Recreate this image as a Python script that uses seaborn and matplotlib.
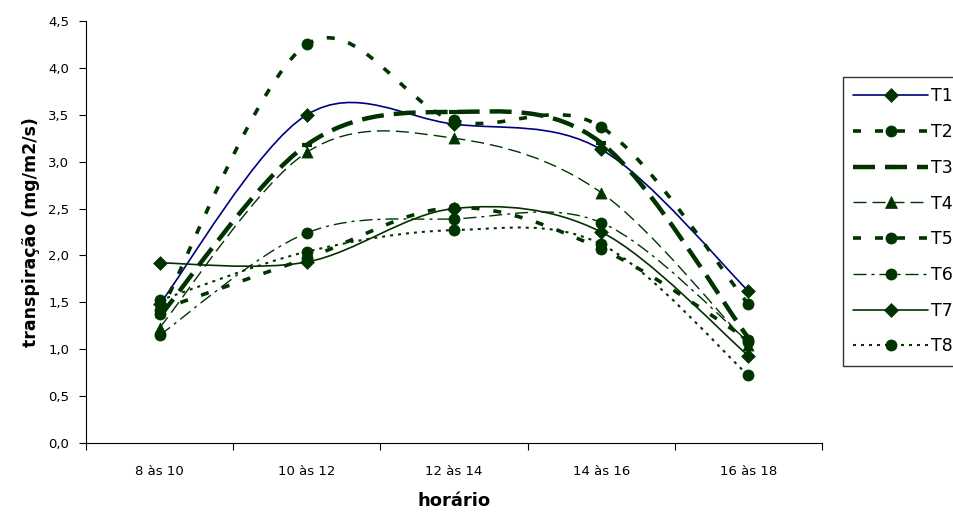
import numpy as np
import pandas as pd
import seaborn as sns
import matplotlib
matplotlib.use("Agg")
import matplotlib.pyplot as plt
from matplotlib.path import Path
from matplotlib.patches import PathPatch
from matplotlib.lines import Line2D
from matplotlib.ticker import FuncFormatter, FixedLocator

# ---------------- data ----------------
categories = ["8 às 10", "10 às 12", "12 às 14", "14 às 16", "16 às 18"]
t1 = [1.48, 3.50, 3.40, 3.13, 1.62]
t2 = [1.38, 4.25, 3.44, 3.37, 1.48]
t3 = [1.35, 3.18, 3.53, 3.20, 1.12]
t4 = [1.23, 3.10, 3.25, 2.67, 1.05]
t5 = [1.42, 1.97, 2.51, 2.07, 1.10]
t6 = [1.15, 2.24, 2.39, 2.35, 1.08]
t7 = [1.92, 1.93, 2.50, 2.25, 0.93]
t8 = [1.52, 2.04, 2.27, 2.12, 0.72]
series_names = ["T1", "T2", "T3", "T4", "T5", "T6", "T7", "T8"]
series_values = [t1, t2, t3, t4, t5, t6, t7, t8]
y_ticks = [0.0, 0.5, 1.0, 1.5, 2.0, 2.5, 3.0, 3.5, 4.0, 4.5]

# ---------------- style ----------------
sns.set_theme(style="white")
plt.rcParams['font.family'] = ['DejaVu Sans']
plt.rcParams['text.color'] = 'black'
plt.rcParams['axes.labelcolor'] = 'black'
plt.rcParams['xtick.color'] = 'black'
plt.rcParams['ytick.color'] = 'black'

GREEN = "#003300"
NAVY = "#000080"

def px_dash(pattern_px, lw):
    # convert pixel dash pattern into units of linewidth
    return (0, tuple(p * 0.72 / lw for p in pattern_px))

styles = {
    "T1": dict(color=NAVY, lw=1.2, ls="-", marker="D", ms=7),
    "T2": dict(color=GREEN, lw=2.6, ls=px_dash((8, 14), 2.6), marker="o", ms=8),
    "T3": dict(color=GREEN, lw=3.2, ls=px_dash((22, 10), 3.2), marker="_", ms=7),
    "T4": dict(color=GREEN, lw=1.0, ls=px_dash((13, 6), 1.0), marker="^", ms=8),
    "T5": dict(color=GREEN, lw=2.6, ls=px_dash((8, 14), 2.6), marker="o", ms=8),
    "T6": dict(color=GREEN, lw=1.0, ls=px_dash((13, 5, 3, 5), 1.0), marker="o", ms=8),
    "T7": dict(color=GREEN, lw=1.2, ls="-", marker="D", ms=7),
    "T8": dict(color=GREEN, lw=1.5, ls=px_dash((3, 5), 1.5), marker="o", ms=8),
}

fig = plt.figure(figsize=(9.54, 5.13), dpi=100)
ax = fig.add_axes([86 / 954, 1 - 443 / 513, (822 - 86) / 954, (443 - 21) / 513])

x_pos = np.arange(len(categories), dtype=float)

def smooth_path(xs, ys):
    # Catmull-Rom style Bezier smoothing (as in spreadsheet "smoothed line")
    pts = np.column_stack([xs, ys])
    n = len(pts)
    verts = [tuple(pts[0])]
    codes = [Path.MOVETO]
    for i in range(n - 1):
        p0 = pts[max(i - 1, 0)]
        p1 = pts[i]
        p2 = pts[i + 1]
        p3 = pts[min(i + 2, n - 1)]
        c1 = p1 + (p2 - p0) / 6.0
        c2 = p2 - (p3 - p1) / 6.0
        verts += [tuple(c1), tuple(c2), tuple(p2)]
        codes += [Path.CURVE4] * 3
    return Path(verts, codes)

handles = []
for k, (name, vals) in enumerate(zip(series_names, series_values)):
    st = styles[name]
    patch = PathPatch(smooth_path(x_pos, np.array(vals, dtype=float)),
                      fill=False, edgecolor=st["color"], lw=st["lw"],
                      linestyle=st["ls"], zorder=2 + k * 0.1, capstyle="butt")
    ax.add_patch(patch)
    df = pd.DataFrame({"x": x_pos, "y": vals})
    if st["marker"] == "_":
        sns.scatterplot(data=df, x="x", y="y", marker="_", s=st["ms"] ** 2,
                        color=GREEN, linewidth=3, ax=ax, zorder=5, legend=False)
    else:
        sns.scatterplot(data=df, x="x", y="y", marker=st["marker"], s=st["ms"] ** 2,
                        color=GREEN, edgecolor=GREEN, linewidth=0.5, ax=ax,
                        zorder=5, legend=False)
    handles.append(Line2D([], [], color=st["color"], lw=st["lw"], linestyle=st["ls"],
                          marker=st["marker"], markersize=st["ms"],
                          markerfacecolor=GREEN, markeredgecolor=GREEN,
                          markeredgewidth=3 if st["marker"] == "_" else 0.5))

# ---------------- axes ----------------
ax.set_xlim(-0.5, len(categories) - 0.5)
ax.set_ylim(0, 4.5)
ax.set_xticks(x_pos)
ax.set_xticklabels(categories, fontsize=9.5)
ax.xaxis.set_minor_locator(FixedLocator(np.arange(-0.5, len(categories), 1.0)))
ax.tick_params(axis="x", which="major", length=0, pad=16, labelcolor="black")
ax.tick_params(axis="x", which="minor", length=5, width=0.8, color="black", direction="out", bottom=True)
ax.set_yticks(y_ticks)
ax.yaxis.set_major_formatter(FuncFormatter(lambda v, p: f"{v:.1f}".replace(".", ",")))
ax.tick_params(axis="y", which="major", length=5, width=0.8, color="black",
               direction="out", left=True, labelsize=9.5, pad=7, labelcolor="black")
for s in ["top", "right"]:
    ax.spines[s].set_visible(False)
for s in ["left", "bottom"]:
    ax.spines[s].set_color("black")
    ax.spines[s].set_linewidth(0.8)
ax.grid(False)

ax.set_xlabel("horário", fontsize=13, fontweight="bold", labelpad=10, color="black")
ax.set_ylabel("transpiração (mg/m2/s)", fontsize=12.5, fontweight="bold", labelpad=6, color="black")

leg = fig.legend(handles, series_names, loc="upper left",
                 bbox_to_anchor=(843 / 954, 1 - 77 / 513),
                 frameon=True, fancybox=False, shadow=False,
                 fontsize=12.5, handlelength=4.3, handletextpad=0.17,
                 labelspacing=1.02, borderpad=0.6, borderaxespad=0,
                 labelcolor="black")
leg.get_frame().set_edgecolor("black")
leg.get_frame().set_linewidth(1.0)

fig.savefig("out.png", dpi=100)
